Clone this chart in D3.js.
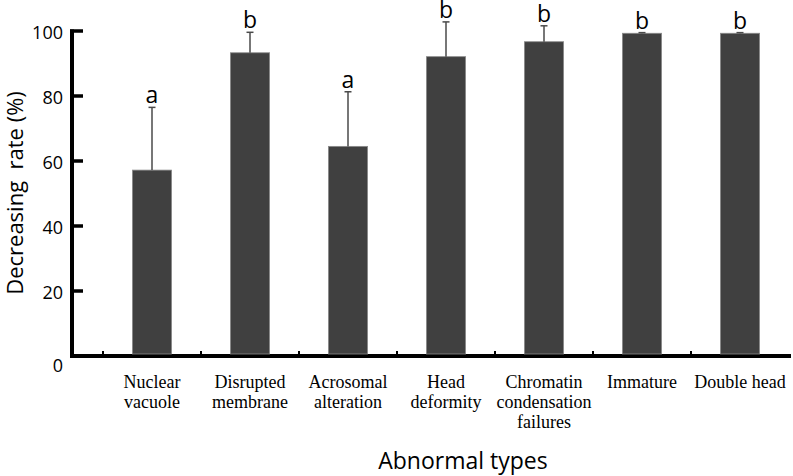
<!DOCTYPE html>
<html><head><meta charset="utf-8">
<script src="https://cdn.jsdelivr.net/npm/d3@7"></script>
<style>body{margin:0;background:#fff}svg{display:block}</style>
</head><body>
<svg id="c" width="793" height="476"></svg>
<script>
const categories = ["Nuclear|vacuole", "Disrupted|membrane", "Acrosomal|alteration", "Head|deformity", "Chromatin|condensation|failures", "Immature", "Double head"];
const values = [57.2, 93.3, 64.5, 92.1, 96.7, 99.3, 99.3];
const errors = [19.3, 6.3, 16.8, 10.7, 4.9, 0.2, 0.2];
const letters = ["a", "b", "a", "b", "b", "b", "b"];
const yTicks = [0, 20, 40, 60, 80, 100];

const svg = d3.select("#c");
const y = d3.scaleLinear().domain([0, 100]).range([356, 31]);
const x = d3.scaleBand().domain(categories).range([103, 789]).padding(0);
const barW = x.bandwidth() * 0.4;
const sans = "'Open Sans', sans-serif";
const cx = c => x(c) + x.bandwidth() / 2;

// axes lines
const axisG = svg.append("g").attr("class", "axes");
axisG.append("rect").attr("x", 70).attr("y", y(100) - 1.5).attr("width", 4).attr("height", y(0) - y(100) + 3.5)
  .attr("fill", "#000");
axisG.selectAll("rect.ytick").data(yTicks.filter(d => d > 0)).enter().append("rect")
  .attr("class", "ytick")
  .attr("x", 70).attr("y", d => y(d) - 1.75).attr("width", 13).attr("height", 3.5)
  .attr("fill", "#000");
axisG.append("rect").attr("x", 70).attr("y", 354).attr("width", 721).attr("height", 4).attr("fill", "#000");
axisG.selectAll("rect.bump").data(categories).enter().append("rect")
  .attr("class", "bump")
  .attr("x", d => x(d) - 1).attr("y", 351).attr("width", 2).attr("height", 3).attr("fill", "#000");

// bars
svg.selectAll("rect.bar").data(values).enter().append("rect")
  .attr("class", "bar")
  .attr("x", (d, i) => cx(categories[i]) - barW / 2)
  .attr("width", barW)
  .attr("y", d => y(d))
  .attr("height", d => y(0) - y(d) - 2)
  .attr("fill", "#404040")
  .attr("stroke", "#8a8a8a")
  .attr("stroke-width", 0.8);

// error bars
const eg = svg.append("g");
values.forEach((v, i) => {
  const c = cx(categories[i]);
  eg.append("line").attr("x1", c).attr("x2", c).attr("y1", y(v)).attr("y2", y(v + errors[i]))
    .attr("stroke", "#4a4a4a").attr("stroke-width", 1.5);
  eg.append("line").attr("x1", c - 3.5).attr("x2", c + 3.5).attr("y1", y(v + errors[i])).attr("y2", y(v + errors[i]))
    .attr("stroke", "#4a4a4a").attr("stroke-width", 1.5);
});

// significance letters
svg.selectAll("text.sig").data(letters).enter().append("text")
  .attr("class", "sig")
  .attr("x", (d, i) => cx(categories[i]))
  .attr("y", (d, i) => y(values[i] + errors[i]) - 4)
  .attr("text-anchor", "middle")
  .attr("font-family", sans).attr("font-size", 23).attr("fill", "#000")
  .text(d => d);

// y axis labels via d3 axis
const yAxis = d3.axisLeft(y).tickValues(yTicks).tickSize(0).tickPadding(0);
const yg = svg.append("g").attr("transform", "translate(72,0)").call(yAxis);
yg.select(".domain").remove();
yg.selectAll(".tick line").remove();
yg.selectAll(".tick text").attr("font-family", sans).attr("font-size", 18).attr("fill", "#000")
  .attr("x", -9).attr("dy", d => d === 0 ? "0.85em" : "0.4em");

// category labels
const lab = svg.append("g").attr("font-family", "'Liberation Serif', 'Times New Roman', serif")
  .attr("font-size", 18).attr("fill", "#000").attr("text-anchor", "middle");
categories.forEach(c => {
  const t = lab.append("text").attr("x", cx(c)).attr("y", 388);
  c.split("|").forEach((line, j) => {
    t.append("tspan").attr("x", cx(c)).attr("dy", j === 0 ? 0 : 20).text(line);
  });
});

// axis titles
svg.append("text").attr("x", 463).attr("y", 469).attr("text-anchor", "middle")
  .attr("font-family", sans).attr("font-size", 23).attr("fill", "#000").text("Abnormal types");
svg.append("text").attr("transform", "translate(23,193) rotate(-90)").attr("text-anchor", "middle")
  .attr("font-family", sans).attr("font-size", 22).attr("fill", "#000")
  .text("Decreasing\u00a0 rate (%)");
</script>
</body></html>
